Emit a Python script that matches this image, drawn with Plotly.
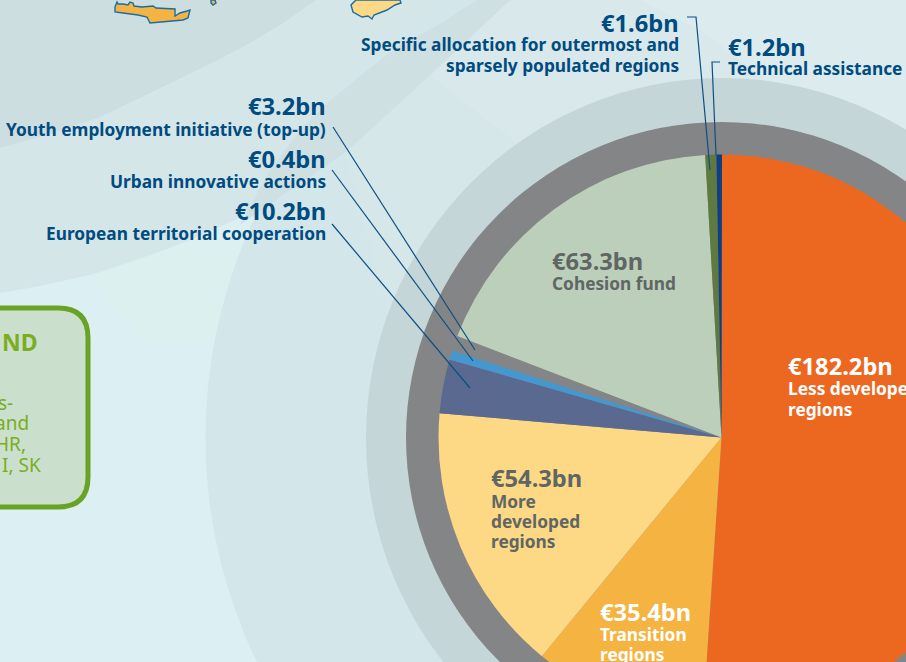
import plotly.graph_objects as go

# Slices as drawn in the picture (degrees of arc; the artwork is not strictly proportional)
categories = ["Less developed regions", "Transition regions", "More developed regions",
              "European territorial cooperation", "Urban innovative actions",
              "Youth employment initiative (top-up)", "Cohesion fund",
              "Specific allocation for outermost and sparsely populated regions",
              "Technical assistance"]
drawn_share = [183.7, 35.6, 55.5, 11.1, 1.9, 3.1, 65.7, 2.25, 1.15]
amounts = ["€182.2bn", "€35.4bn", "€54.3bn", "€10.2bn", "€0.4bn", "€3.2bn", "€63.3bn", "€1.6bn", "€1.2bn"]
slice_colors = ["#ec6820", "#f5b342", "#fdd985", "#59698f", "#4597d0", "#848587", "#bccfba", "#5f7a40", "#0f3f80"]

W, H = 1443, 875          # page is larger than the window, so the chart is cropped as in the reference
CX, CY = W / 2, H / 2
R_PIE, R_GRAY, R_BIG = 283, 315.5, 516
FONT = "Noto Sans"
BLUE = "#004b7f"
GREY = "#5f6664"
GREEN = "#7aad1f"


def fx(x): return x / W
def fy(y): return 1 - y / H


def poly(pts, close=True):
    s = "M" + " L".join(f"{fx(x):.5f},{fy(y):.5f}" for x, y in pts)
    return s + (" Z" if close else "")


def circle(r, color):
    return dict(type="circle", xref="paper", yref="paper", layer="below",
                x0=fx(CX - r), x1=fx(CX + r), y0=fy(CY + r), y1=fy(CY - r),
                fillcolor=color, line_width=0)


def area(pts, color):
    return dict(type="path", xref="paper", yref="paper", layer="below", path=poly(pts),
                fillcolor=color, line_width=0)


def leader(pts):
    return dict(type="path", xref="paper", yref="paper", path=poly(pts, close=False),
                line=dict(color="#0d4f82", width=1.2))


region_b = [(0, 0), (510, 0), (470, 38), (430, 75), (390, 112), (345, 153), (280, 195), (235, 220), (190, 240),
            (140, 260), (90, 275), (40, 286), (0, 293)]
region_a = [(0, 0), (316, 0), (285, 22), (250, 43), (218, 60), (183, 77), (140, 98), (100, 117), (50, 134), (0, 148)]
green_tint = [(90, 276), (190, 241), (250, 222), (215, 340), (140, 340)]
band = [(477, 0), (510, 0), (470, 38), (430, 75), (390, 112), (345, 153), (290, 190), (240, 225),
        (270, 170), (300, 130), (331, 100), (365, 72), (400, 45), (440, 24)]
tone_1 = [(510, 0), (906, 0), (906, 500), (430, 500), (390, 320), (345, 153), (430, 75)]
tone_2 = [(510, 0), (906, 0), (906, 400), (600, 200), (500, 130), (430, 75)]
tone_3 = [(640, 0), (906, 0), (906, 170), (780, 90), (700, 30)]
crete = [(115, 7), (117, 2), (118, 4), (123, 4), (128, 5), (130, 2), (133, 3), (134, 6), (142, 7), (153, 6),
         (156, 8), (175, 9), (175, 16), (180, 13), (187, 11), (190, 10), (188, 18), (183, 20), (172, 21),
         (150, 23), (147, 17), (138, 15), (123, 13), (115, 12)]
islet = [(211, 0), (215, 0), (216, 3), (213, 5), (211, 3)]
cyprus = [(356, 0), (351, 5), (353, 12), (362, 17), (368, 16), (372, 19), (374, 15), (387, 10), (395, 5),
          (401, 3), (400, 0)]

# legend panel at the left edge (x is clipped by the window)
bx0, bx1, by0, by1, br = -40, 88, 308, 507, 30
panel = (f"M{fx(bx0)},{fy(by0)} L{fx(bx1-br)},{fy(by0)} Q{fx(bx1)},{fy(by0)} {fx(bx1)},{fy(by0+br)} "
         f"L{fx(bx1)},{fy(by1-br)} Q{fx(bx1)},{fy(by1)} {fx(bx1-br)},{fy(by1)} L{fx(bx0)},{fy(by1)} Z")

map_line = dict(color="#1a6ca3", width=1.4)
shapes = [
    area(region_b, "#d5e6e9"),
    area(green_tint, "#dcf0f0"),
    area(region_a, "#cddee1"),
    circle(R_BIG, "#d3e6e9"),
    area(tone_1, "#d6e7ea"),
    area(tone_2, "#d9e8eb"),
    area(tone_3, "#dcebee"),
    area(band, "#cfe0e3"),
    dict(type="circle", xref="paper", yref="paper", layer="below",
         x0=fx(366), x1=fx(1078), y0=fy(798), y1=fy(78), fillcolor="#c5d6d9", line_width=0),
    circle(R_GRAY, "#848587"),
    dict(type="path", xref="paper", yref="paper", layer="below", path=poly(crete), fillcolor="#f5b342", line=map_line),
    dict(type="path", xref="paper", yref="paper", layer="below", path=poly(islet), fillcolor="#f5b342", line=map_line),
    dict(type="path", xref="paper", yref="paper", layer="below", path=poly(cyprus), fillcolor="#fdd985", line=map_line),
    dict(type="path", xref="paper", yref="paper", layer="below", path=panel, fillcolor="#cbe0cc",
         line=dict(color="#68a325", width=5)),
    leader([(333, 127), (475, 350)]),
    leader([(332, 170), (473, 361)]),
    leader([(332, 224), (470, 388)]),
    leader([(687, 17), (696, 17), (710, 170)]),
    leader([(720, 62), (712, 62), (716, 155)]),
]


def label(text, x, y, anchor, color, size, bold=True):
    t = f"<b>{text}</b>" if bold else text
    nudge = -2 if anchor == "left" else 2
    return dict(text=t, x=fx(x + nudge), y=fy(y), xref="paper", yref="paper", xanchor=anchor, yanchor="middle",
                showarrow=False, font=dict(family=FONT, size=size, color=color))


BIG, SMALL = 23.7, 17.3
annotations = [
    label(amounts[7], 679, 23, "right", BLUE, BIG),
    label("Specific allocation for outermost and", 679, 45, "right", BLUE, SMALL),
    label("sparsely populated regions", 679, 66, "right", BLUE, SMALL),
    label(amounts[8], 728, 47, "left", BLUE, BIG),
    label("Technical assistance", 728, 69, "left", BLUE, SMALL),
    label(amounts[5], 326, 106, "right", BLUE, BIG),
    label("Youth employment initiative (top-up)", 326, 129, "right", BLUE, SMALL),
    label(amounts[4], 326, 159, "right", BLUE, BIG),
    label("Urban innovative actions", 326, 181, "right", BLUE, SMALL),
    label(amounts[3], 326, 211, "right", BLUE, BIG),
    label("European territorial cooperation", 326, 233.5, "right", BLUE, SMALL),
    label(amounts[6], 552, 261, "left", GREY, BIG),
    label("Cohesion fund", 552, 283, "left", GREY, SMALL),
    label(amounts[0], 788, 366, "left", "white", BIG),
    label("Less developed", 788, 388, "left", "white", SMALL),
    label("regions", 788, 409, "left", "white", SMALL),
    label(amounts[2], 491, 478, "left", GREY, BIG),
    label("More", 491, 501, "left", GREY, SMALL),
    label("developed", 491, 521, "left", GREY, SMALL),
    label("regions", 491, 541, "left", GREY, SMALL),
    label(amounts[1], 600, 612, "left", "white", BIG),
    label("Transition", 600, 634, "left", "white", SMALL),
    label("regions", 600, 654, "left", "white", SMALL),
    label("ND", 38, 342, "right", GREEN, 23),
    label("s-", 13, 403, "right", GREEN, 19, bold=False),
    label("and", 29, 423, "right", GREEN, 19, bold=False),
    label("HR,", 26, 444, "right", GREEN, 19, bold=False),
    label("I, SK", 41, 465, "right", GREEN, 19, bold=False),
]

fig = go.Figure(go.Pie(
    labels=categories, values=drawn_share, sort=False, direction="clockwise", rotation=0.1,
    marker=dict(colors=slice_colors, line=dict(width=0)), textinfo="none", hoverinfo="label",
    domain=dict(x=[0.5 - R_PIE / W, 0.5 + R_PIE / W], y=[0.5 - R_PIE / H, 0.5 + R_PIE / H]),
    showlegend=False,
))
fig.update_layout(width=W, height=H, margin=dict(l=0, r=0, t=0, b=0), paper_bgcolor="#dceff3",
                  shapes=shapes, annotations=annotations)
fig.write_html("out.html", post_script="document.body.style.margin='0';document.documentElement.style.overflow='hidden';")
